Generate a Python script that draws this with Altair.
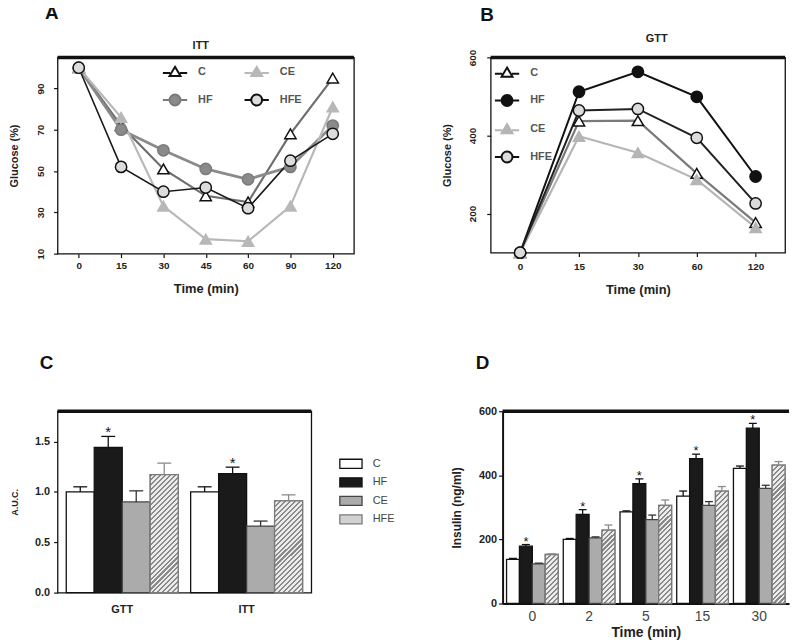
import altair as alt
import pandas as pd

FONT = "Liberation Sans"
INK = "#222222"
GROUPS = ["C", "HF", "CE", "HFE"]

# ---------------- data ----------------
# Panel A: ITT, glucose (% of baseline)
itt_times = ["0", "15", "30", "45", "60", "90", "120"]
itt_C = [100, 72, 51, 38, 35, 68, 95]
itt_HF = [100, 70, 60, 51, 46, 52, 72]
itt_CE = [100, 76, 33, 17, 16, 33, 81]
itt_HFE = [100, 52, 40, 42, 32, 55, 68]

# Panel B: GTT, glucose
gtt_times = ["0", "15", "30", "60", "120"]
gtt_C = [100, 437, 438, 303, 177]
gtt_HF = [100, 512, 563, 499, 295]
gtt_CE = [100, 398, 356, 287, 164]
gtt_HFE = [100, 464, 468, 394, 226]

# Panel C: area under curve
auc_tests = ["GTT", "ITT"]
auc_C = [1.00, 1.00]
auc_HF = [1.44, 1.18]
auc_CE = [0.90, 0.66]
auc_HFE = [1.17, 0.91]
auc_C_err = [0.05, 0.05]
auc_HF_err = [0.11, 0.065]
auc_CE_err = [0.11, 0.05]
auc_HFE_err = [0.115, 0.06]

# Panel D: insulin (ng/ml)
ins_times = ["0", "2", "5", "15", "30"]
ins_C = [138, 200, 286, 335, 422]
ins_HF = [179, 278, 374, 452, 547]
ins_CE = [124, 205, 262, 306, 359]
ins_HFE = [153, 229, 306, 351, 432]
ins_C_err = [3, 3, 3, 16, 7]
ins_HF_err = [5, 15, 15, 14, 15]
ins_CE_err = [2, 3, 14, 12, 10]
ins_HFE_err = [2, 16, 17, 14, 11]

significant = "HF"

# ---------------- styles ----------------
TRI_LEG = "M-2,0.15H-0.8M0.8,0.15H2M0,-0.85L0.9,0.65L-0.9,0.65Z"
CIRC_LEG = ("M-2,0H-0.9M0.9,0H2M-0.9,0A0.9,0.9,0,1,1,0.9,0"
            "A0.9,0.9,0,1,1,-0.9,0Z")
RECT_LEG = "M-1.6,-0.65H1.6V0.65H-1.6Z"
MARKERS = {"C": "triangle-up", "HF": "circle", "CE": "triangle-up", "HFE": "circle"}

BAR_FILL = ["#ffffff", "#1a1a1a", "#ababab", "#d2d2d2"]
BAR_STROKE = ["#111111", "#111111", "#444444", "#7a7a7a"]
ERR_COLOR = ["#111111", "#111111", "#333333", "#8a8a8a"]

INDEP = dict(color="independent", fill="independent", stroke="independent",
             shape="independent", xOffset="independent")
INDEP_LEG = dict(color="independent", fill="independent", stroke="independent",
                 shape="independent")


def hatch(w, h, period=5.0, frac=0.42, dark="#8a8a8a", light="#ececec"):
    k = (w + h) / (w * w + h * h)
    n = (w + h) / period
    stops = []
    i = 0
    while i / n < 1:
        a, b, c = i / n, min((i + frac) / n, 1), min((i + 1) / n, 1)
        stops += [{"offset": a, "color": dark}, {"offset": b, "color": dark},
                  {"offset": b, "color": light}, {"offset": c, "color": light}]
        i += 1
    return {"gradient": "linear", "x1": 0, "y1": 0, "x2": w * k, "y2": h * k,
            "stops": stops}


def line_panel(times, series, ydom, yvals, w, h, title, title_dx,
               line_colors, line_widths, fill_colors, stroke_colors, leg,
               ylab_pad, ytitle_pad, xlab_pad, xtitle_pad):
    rows = [{"time": t, "group": g, "value": v}
            for g in GROUPS for t, v in zip(times, series[g])]
    df = pd.DataFrame(rows)
    x = alt.X("time:O", sort=times,
              scale=alt.Scale(type="point", padding=0.5),
              axis=alt.Axis(title="Time (min)", labelAngle=0, labelFontSize=10,
                            labelFontWeight="bold", labelPadding=xlab_pad,
                            tickSize=4, tickWidth=1.2, titleFontSize=13,
                            titleFontWeight="bold", titlePadding=xtitle_pad))
    y = alt.Y("value:Q", scale=alt.Scale(domain=ydom, nice=False, zero=False),
              axis=alt.Axis(values=yvals, title="Glucose (%)", labelAngle=270,
                            labelAlign="center", labelBaseline="bottom",
                            labelFontSize=10, labelFontWeight="bold",
                            labelPadding=ylab_pad, tickSize=4, tickWidth=1.2,
                            titleFontSize=11, titleFontWeight="bold",
                            titlePadding=ytitle_pad))
    layers = []
    for i, g in enumerate(GROUPS):
        sub = df[df["group"] == g]
        layers.append(alt.Chart(sub).mark_line(color=line_colors[i], strokeWidth=line_widths[i]).encode(x=x, y=y))
    for i, g in enumerate(GROUPS):
        sub = df[df["group"] == g]
        layers.append(alt.Chart(sub).mark_point(
            shape=MARKERS[g], filled=True, opacity=1, size=130, strokeWidth=1.5,
            fill=fill_colors[i], stroke=stroke_colors[i]).encode(x=x, y=y))
    legend = alt.Legend(title=None, orient="none", symbolSize=150, symbolStrokeWidth=2,
                        symbolOffset=8, labelOffset=15.8, labelFont=FONT, labelFontSize=11,
                        labelFontWeight="bold", labelColor="#555555", padding=0, **leg)
    layers.append(alt.Chart(df).transform_filter("false").mark_point(
        filled=True, opacity=1, strokeWidth=2).encode(
        shape=alt.Shape("group:N", sort=GROUPS, scale=alt.Scale(domain=GROUPS, range=[TRI_LEG, CIRC_LEG, TRI_LEG, CIRC_LEG]), legend=legend),
        fill=alt.Fill("group:N", sort=GROUPS, scale=alt.Scale(domain=GROUPS, range=fill_colors), legend=legend),
        stroke=alt.Stroke("group:N", sort=GROUPS, scale=alt.Scale(domain=GROUPS, range=stroke_colors), legend=legend),
    ))
    layers.append(alt.Chart(pd.DataFrame({"k": [0]})).mark_rule(color="#111111", strokeWidth=3.5).encode(
        y=alt.datum(ydom[1])))
    return alt.layer(*layers).properties(
        width=w, height=h,
        title=alt.Title(title, fontSize=11, fontWeight="bold", font=FONT, color=INK,
                        offset=5, dx=title_dx),
    )


def bar_panel(cats, series, errs, ydom, w, h, xaxis, yaxis, legend,
              pin, pout, barw, capw, star_size, view=None):
    rows = []
    for g in GROUPS:
        for c, v, e in zip(cats, series[g], errs[g]):
            rows.append({"cat": c, "group": g, "value": v, "top": v + e})
    df = pd.DataFrame(rows)
    x = alt.X("cat:N", sort=cats, scale=alt.Scale(paddingInner=pin, paddingOuter=pout), axis=xaxis)
    xo = alt.XOffset("group:N", sort=GROUPS, scale=alt.Scale(domain=GROUPS, paddingInner=0, paddingOuter=0))

    def yenc(field):
        return alt.Y(field, scale=alt.Scale(domain=ydom, nice=False), axis=yaxis)

    bars = alt.Chart(df).mark_bar(strokeWidth=1.3).encode(
        x=x, xOffset=xo, y=yenc("value:Q"),
        fill=alt.Fill("group:N", sort=GROUPS, scale=alt.Scale(domain=GROUPS, range=BAR_FILL), legend=legend),
        stroke=alt.Stroke("group:N", sort=GROUPS, scale=alt.Scale(domain=GROUPS, range=BAR_STROKE), legend=legend),
    )
    layers = [bars]
    for c, v in zip(cats, series["HFE"]):
        hp = v / ydom[1] * h
        sub = df[(df["group"] == "HFE") & (df["cat"] == c)]
        layers.append(alt.Chart(sub).mark_bar(fill=hatch(barw, hp), stroke="#7a7a7a", strokeWidth=1.3).encode(
            x=x, xOffset=xo, y=yenc("value:Q")))
    ecol = alt.Color("group:N", sort=GROUPS, scale=alt.Scale(domain=GROUPS, range=ERR_COLOR), legend=None)
    layers.append(alt.Chart(df).mark_rule(strokeWidth=1.3).encode(
        x=x, xOffset=xo, y=yenc("value:Q"), y2="top:Q", color=ecol))
    layers.append(alt.Chart(df).mark_tick(orient="horizontal", thickness=1.3, size=capw, opacity=1).encode(
        x=x, xOffset=xo, y=yenc("top:Q"), color=ecol))
    layers.append(alt.Chart(df[df["group"] == significant]).mark_text(
        text="*", baseline="bottom", dy=4, fontSize=star_size, font=FONT, color="#111111").encode(
        x=x, xOffset=xo, y=yenc("top:Q")))
    layers.append(alt.Chart(pd.DataFrame({"k": [0]})).mark_rule(color="#111111", strokeWidth=3.5).encode(
        y=alt.datum(ydom[1])))
    ch = alt.layer(*layers).properties(width=w, height=h)
    if view is not None:
        ch = ch.properties(view=view)
    return ch


def lettered(ch, letter, dx, offset):
    return alt.vconcat(ch, title=alt.Title(letter, anchor="start", dx=dx, offset=offset,
                                            fontSize=19, font=FONT, fontWeight="bold",
                                            color="#111111"))


# ---------------- panels ----------------
panel_a = line_panel(
    itt_times, {"C": itt_C, "HF": itt_HF, "CE": itt_CE, "HFE": itt_HFE},
    [10, 105], [10, 30, 50, 70, 90], 299, 198, "ITT", -5,
    ["#6e6e6e", "#8a8a8a", "#b8b8b8", "#1a1a1a"], [2.2, 2.8, 2.2, 1.6],
    ["#ffffff", "#8a8a8a", "#b8b8b8", "#dcdcdc"], ["#111111", "#7a7a7a", "#b8b8b8", "#111111"],
    dict(legendX=103, legendY=7, columns=2, columnPadding=27.4, rowPadding=9.5),
    8, 16, 3, 12)

panel_b = line_panel(
    gtt_times, {"C": gtt_C, "HF": gtt_HF, "CE": gtt_CE, "HFE": gtt_HFE},
    [100, 600], [200, 400, 600], 297, 197, "GTT", 19,
    ["#7a7a7a", "#111111", "#b5b5b5", "#222222"], [2.2, 2.0, 2.2, 2.0],
    ["#ffffff", "#111111", "#b5b5b5", "#dcdcdc"], ["#111111", "#111111", "#b5b5b5", "#111111"],
    dict(legendX=1, legendY=8, columns=1, rowPadding=9.0),
    9, 16, 5, 12)

legend_c = alt.Legend(title=None, orient="none", legendX=283, legendY=45,
                      symbolType=RECT_LEG, symbolSize=196, symbolStrokeWidth=1.3,
                      symbolOffset=5, labelOffset=14, rowPadding=2.7, padding=0,
                      labelFont=FONT, labelFontSize=11, labelColor="#444444")
panel_c = bar_panel(
    auc_tests, {"C": auc_C, "HF": auc_HF, "CE": auc_CE, "HFE": auc_HFE},
    {"C": auc_C_err, "HF": auc_HF_err, "CE": auc_CE_err, "HFE": auc_HFE_err},
    [0, 1.8], 256, 183,
    alt.Axis(title=None, labelAngle=0, ticks=False, labelFontSize=11, labelFontWeight="bold",
             labelPadding=11),
    alt.Axis(title="A.U.C.", values=[0, 0.5, 1.0, 1.5], format=".1f", tickSize=4, tickWidth=1.2,
             labelFontSize=11, labelFontWeight="bold", labelPadding=4,
             titleFontSize=9, titleFontWeight="bold", titlePadding=15),
    legend_c, 0.1, 0.07, 28.2, 14, 15)

panel_d = bar_panel(
    ins_times, {"C": ins_C, "HF": ins_HF, "CE": ins_CE, "HFE": ins_HFE},
    {"C": ins_C_err, "HF": ins_HF_err, "CE": ins_CE_err, "HFE": ins_HFE_err},
    [0, 600], 289, 194,
    alt.Axis(title="Time (min)", labelAngle=0, ticks=False, labelFontSize=14,
             labelFontWeight="normal", labelColor="#444444", labelPadding=6,
             domain=True, domainColor="#111111", domainWidth=2,
             titleFontSize=14, titleFontWeight="bold", titlePadding=2),
    alt.Axis(title="Insulin (ng/ml)", values=[0, 200, 400, 600], tickSize=4, tickWidth=1.2,
             labelFontSize=11, labelFontWeight="bold", labelPadding=2,
             domain=True, domainColor="#111111", domainWidth=2,
             titleFontSize=12, titleFontWeight="bold", titlePadding=15),
    None, 0.09, 0.07, 13.0, 8, 13,
    view=alt.ViewBackground(stroke="transparent"))

row1 = alt.hconcat(lettered(panel_a, "A", 37, 16), lettered(panel_b, "B", 40, 8),
                   spacing=84).resolve_scale(**INDEP).resolve_legend(**INDEP_LEG)
row2 = alt.hconcat(lettered(panel_c, "C", 30, 36), lettered(panel_d, "D", 26, 32),
                   spacing=55).resolve_scale(**INDEP).resolve_legend(**INDEP_LEG)

chart = alt.vconcat(row1, row2, spacing=57).resolve_scale(**INDEP).resolve_legend(
    **INDEP_LEG
).properties(
    padding={"top": -7, "left": 0, "right": 0, "bottom": 0}
).configure_view(
    stroke="#111111", strokeWidth=1.3
).configure_axis(
    grid=False, domain=False, labelFont=FONT, titleFont=FONT,
    labelColor=INK, titleColor=INK, tickColor="#111111"
).configure_title(font=FONT)

chart.save("out.html", embed_options={"renderer": "svg", "actions": False})
